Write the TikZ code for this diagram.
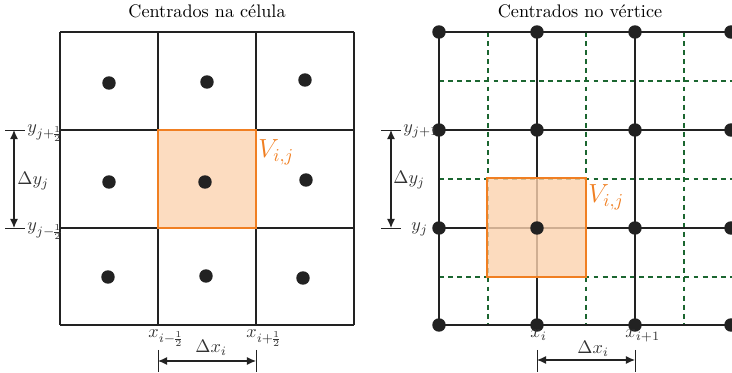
\documentclass[tikz,border=0pt]{standalone}
\usetikzlibrary{arrows.meta}
\definecolor{gridc}{HTML}{222222}
\definecolor{orng}{HTML}{F07F22}
\definecolor{orfill}{HTML}{FCDCC0}
\definecolor{orfill2}{HTML}{FBD2AE}
\definecolor{dgreen}{HTML}{1B6630}
\definecolor{lblc}{HTML}{333333}
\nulldelimiterspace=0pt
\begin{document}
\begin{tikzpicture}[x=0.55pt,y=-0.55pt,
  gline/.style={draw=gridc,line width=1.1pt},
  gdash/.style={draw=dgreen,line width=1.4pt,dash pattern=on 2.7pt off 2.3pt},
  dot/.style={circle,fill=gridc,inner sep=0pt,minimum size=7.4pt},
  lbl/.style={text=lblc,inner sep=0pt,anchor=base west},
  meas/.style={draw=gridc,line width=0.7pt,{Latex[length=5pt,width=4.5pt]}-{Latex[length=5pt,width=4.5pt]}},
  tick/.style={draw=gridc,line width=0.5pt},
  vlab/.style={text=orng,inner sep=0pt,font=\Large,anchor=base west}]
\useasboundingbox (0,0) rectangle (732,373);
% ---------- left: cell centred ----------
\node[inner sep=0pt,anchor=base] (t1) at (207,18) {Centrados na c\'elula};
\fill[orfill] (158,130) rectangle (256,228);
\foreach \x in {60,158,256,354} \draw[gline] (\x,32) -- (\x,325);
\foreach \y in {32,130,228,325} \draw[gline] (60,\y) -- (354,\y);
\draw[orng,line width=1.6pt] (158,130) rectangle (256,228);
\node[dot] (c11) at (109,83) {};
\node[dot] (c21) at (207,82) {};
\node[dot] (c31) at (305,80) {};
\node[dot] (c12) at (109,182) {};
\node[dot] (c22) at (205,182) {};
\node[dot] (c32) at (306,180) {};
\node[dot] (c13) at (108,277) {};
\node[dot] (c23) at (206,276) {};
\node[dot] (c33) at (303,278) {};
\node[vlab] (V1) at (258,158) {$V_{i,j}$};
% left measures
\coordinate (ly1a) at (5,130); \coordinate (ly1b) at (25,130);
\coordinate (ly2a) at (5,228); \coordinate (ly2b) at (25,228);
\draw[tick] (ly1a) -- (ly1b); \draw[tick] (ly2a) -- (ly2b);
\coordinate (lyt) at (14,130); \coordinate (lyb) at (14,228);
\draw[meas] (lyt) -- (lyb);
\node[lbl] (ly1) at (27,133) {$y_{j+\frac{1}{2}}$};
\node[lbl] (ly2) at (27,231) {$y_{j-\frac{1}{2}}$};
\node[lbl] (ldy) at (17,185) {$\Delta y_j$};
\node[lbl] (lx1) at (148,338) {$x_{i-\frac{1}{2}}$};
\node[lbl] (lx2) at (246,338) {$x_{i+\frac{1}{2}}$};
\node[lbl] (ldx) at (195,353) {$\Delta x_i$};
\coordinate (lxa1) at (158,350); \coordinate (lxa2) at (158,372);
\coordinate (lxb1) at (256,350); \coordinate (lxb2) at (256,372);
\draw[tick] (lxa1) -- (lxa2); \draw[tick] (lxb1) -- (lxb2);
\coordinate (lxl) at (158,361); \coordinate (lxr) at (256,361);
\draw[meas] (lxl) -- (lxr);
% ---------- right: vertex centred ----------
\node[inner sep=0pt,anchor=base] (t2) at (580,18) {Centrados no v\'ertice};
\foreach \x in {488,586,684} \draw[gdash] (\x,32) -- (\x,325);
\foreach \y in {81,179,277} \draw[gdash] (439,\y) -- (732,\y);
\foreach \x in {439,537,635} \draw[gline] (\x,32) -- (\x,325);
\foreach \y in {32,130,228,325} \draw[gline] (439,\y) -- (732,\y);
\fill[orfill2,opacity=0.8] (487,178) rectangle (586,277);
\draw[orng,line width=1.5pt] (487,178) rectangle (586,277);
\foreach \y [count=\j] in {32,130,228,325} {
  \foreach \x [count=\i] in {439,537,635,731} {
    \node[dot] (v\i\j) at (\x,\y) {};
  }
}
\node[vlab] (V2) at (588,203) {$V_{i,j}$};
\coordinate (ry1a) at (381,130); \coordinate (ry1b) at (401,130);
\coordinate (ry2a) at (381,228); \coordinate (ry2b) at (401,228);
\draw[tick] (ry1a) -- (ry1b); \draw[tick] (ry2a) -- (ry2b);
\coordinate (ryt) at (391,130); \coordinate (ryb) at (391,228);
\draw[meas] (ryt) -- (ryb);
\node[lbl] (ry1) at (403,133) {$y_{j+1}$};
\node[lbl] (ry2) at (411,231) {$y_j$};
\node[lbl] (rdy) at (393,184) {$\Delta y_j$};
\node[lbl] (rx1) at (530,338) {$x_i$};
\node[lbl] (rx2) at (625,338) {$x_{i+1}$};
\node[lbl] (rdx) at (577,354) {$\Delta x_i$};
\coordinate (rxa1) at (537,350); \coordinate (rxa2) at (537,372);
\coordinate (rxb1) at (635,350); \coordinate (rxb2) at (635,372);
\draw[tick] (rxa1) -- (rxa2); \draw[tick] (rxb1) -- (rxb2);
\coordinate (rxl) at (537,360); \coordinate (rxr) at (635,360);
\draw[meas] (rxl) -- (rxr);
\end{tikzpicture}
\end{document}
